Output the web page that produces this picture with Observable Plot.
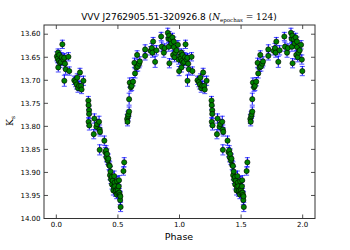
<!DOCTYPE html>
<html><head><meta charset="utf-8">
<script src="https://cdn.jsdelivr.net/npm/d3@7"></script>
<script src="https://cdn.jsdelivr.net/npm/@observablehq/plot@0.6"></script>
<style>html,body{margin:0;padding:0;background:#fff;}#c{position:relative;width:350px;height:250px;}</style>
</head><body><div id="c"></div>
<script>
const phase = [0.005,0.011,0.014,0.016,0.020,0.024,0.030,0.038,0.044,0.049,0.058,0.065,0.065,0.070,0.076,0.098,0.105,
0.146,0.157,0.165,0.170,0.176,0.185,0.192,0.201,0.205,0.220,
0.260,0.262,0.266,0.266,0.262,0.268,0.304,0.309,0.325,0.330,0.347,0.352,0.355,0.352,
0.390,0.398,0.404,0.407,0.412,0.417,0.422,0.428,0.434,0.436,0.440,0.444,0.450,0.452,0.458,0.463,0.466,0.470,0.474,0.477,0.480,0.485,0.490,0.493,0.497,0.499,0.503,0.507,0.509,0.512,0.515,0.518,0.520,0.522,
0.545,0.551,0.575,0.578,0.582,0.585,0.591,0.591,0.596,0.605,0.612,0.623,0.634,0.639,0.650,0.656,0.661,0.672,0.678,
0.721,0.721,0.765,0.775,0.781,0.786,0.802,0.813,0.851,0.856,0.873,0.880,
0.905,0.910,0.913,0.916,0.918,0.927,0.935,0.943,0.948,0.954,0.954,0.960,0.966,0.976,0.987,0.993,0.997];
const mag = [13.648,13.653,13.640,13.672,13.658,13.645,13.662,13.660,13.650,13.622,13.655,13.651,13.701,13.664,13.676,13.649,13.680,
13.700,13.704,13.709,13.694,13.717,13.712,13.683,13.712,13.720,13.701,
13.744,13.754,13.765,13.773,13.790,13.798,13.817,13.783,13.801,13.795,13.790,13.807,13.812,13.851,
13.831,13.856,13.852,13.867,13.860,13.874,13.870,13.884,13.886,13.906,13.898,13.915,13.910,13.926,13.918,13.939,13.931,13.908,13.922,13.930,13.942,13.939,13.948,13.919,13.935,13.939,13.945,13.930,13.917,13.944,13.949,13.960,13.952,13.975,
13.897,13.878,13.784,13.790,13.778,13.774,13.768,13.741,13.705,13.715,13.712,13.703,13.662,13.685,13.672,13.645,13.670,13.664,13.659,
13.647,13.633,13.636,13.630,13.640,13.616,13.660,13.635,13.605,13.627,13.640,13.630,
13.597,13.610,13.627,13.603,13.663,13.611,13.620,13.607,13.645,13.616,13.628,13.650,13.640,13.635,13.623,13.655,13.680];
const err = [0.010,0.009,0.008,0.010,0.009,0.009,0.010,0.008,0.010,0.009,0.010,0.009,0.012,0.010,0.011,0.009,0.009,
0.009,0.010,0.010,0.008,0.009,0.010,0.009,0.010,0.009,0.010,
0.009,0.009,0.009,0.010,0.009,0.010,0.010,0.010,0.009,0.010,0.012,0.010,0.009,0.011,
0.010,0.010,0.010,0.010,0.011,0.009,0.010,0.010,0.009,0.010,0.011,0.009,0.010,0.010,0.009,0.010,0.010,0.011,0.010,0.009,0.010,0.010,0.009,0.010,0.009,0.010,0.010,0.010,0.010,0.009,0.009,0.010,0.010,0.010,
0.009,0.010,0.010,0.009,0.010,0.009,0.010,0.013,0.010,0.009,0.010,0.009,0.010,0.010,0.009,0.009,0.010,0.009,0.010,
0.009,0.010,0.009,0.010,0.010,0.009,0.012,0.010,0.009,0.010,0.010,0.009,
0.010,0.009,0.010,0.009,0.010,0.009,0.010,0.009,0.010,0.010,0.009,0.010,0.010,0.010,0.009,0.010,0.010];
const cycles = [0, 1];
const xTicks = [0, 0.5, 1, 1.5, 2];
const yTicks = [13.60, 13.65, 13.70, 13.75, 13.80, 13.85, 13.90, 13.95, 14.00];

const rows = [];
for (const k of cycles) phase.forEach((p, i) => rows.push({x: p + k, y: mag[i], e: err[i]}));

const capSym = {draw(ctx) { ctx.moveTo(-2.5, 0); ctx.lineTo(2.5, 0); }};
const tickUp = {draw(ctx) { ctx.moveTo(0, 0); ctx.lineTo(0, -4); }};
const tickDown = {draw(ctx) { ctx.moveTo(0, 0); ctx.lineTo(0, 4); }};
const tickRight = {draw(ctx) { ctx.moveTo(0, 0); ctx.lineTo(4, 0); }};
const tickLeft = {draw(ctx) { ctx.moveTo(0, 0); ctx.lineTo(-4, 0); }};

const chart = Plot.plot({
  width: 350, height: 250,
  marginLeft: 43.5, marginRight: 35.5, marginTop: 24.5, marginBottom: 32,
  style: {fontFamily: "DejaVu Sans", fontSize: "7px", background: "white", color: "black"},
  x: {domain: [-0.1, 2.1]},
  y: {domain: [13.58, 14.0], reverse: true},
  marks: [
    Plot.ruleX(rows, {x: "x", y1: d => d.y - d.e, y2: d => d.y + d.e, stroke: "blue", strokeWidth: 1}),
    Plot.dot(rows, {x: "x", y: d => d.y - d.e, symbol: capSym, stroke: "blue", strokeOpacity: 0.7, strokeWidth: 1, fill: "none"}),
    Plot.dot(rows, {x: "x", y: d => d.y + d.e, symbol: capSym, stroke: "blue", strokeOpacity: 0.7, strokeWidth: 1, fill: "none"}),
    Plot.dot(rows, {x: "x", y: "y", r: 2.6, fill: "green", stroke: "black", strokeWidth: 0.6}),
    Plot.dot(xTicks, {x: d => d, frameAnchor: "bottom", symbol: tickUp, stroke: "#222", strokeWidth: 0.8}),
    Plot.dot(xTicks, {x: d => d, frameAnchor: "top", symbol: tickDown, stroke: "#222", strokeWidth: 0.8}),
    Plot.dot(yTicks, {y: d => d, frameAnchor: "left", symbol: tickRight, stroke: "#222", strokeWidth: 0.8}),
    Plot.dot(yTicks, {y: d => d, frameAnchor: "right", symbol: tickLeft, stroke: "#222", strokeWidth: 0.8}),
    Plot.axisX(xTicks, {anchor: "bottom", tickSize: 0, tickPadding: 4, tickFormat: d3.format(".1f"), label: null, fontSize: 7}),
    Plot.axisY(yTicks, {anchor: "left", tickSize: 0, tickPadding: 3.5, tickFormat: d3.format(".2f"), label: null, fontSize: 7}),
    Plot.frame({stroke: "#333", strokeWidth: 1})
  ]
});
document.getElementById("c").appendChild(chart);

const svg = d3.select(chart);
svg.append("text").attr("x", 179).attr("y", 240).attr("text-anchor", "middle")
  .attr("font-family", "DejaVu Sans").attr("font-size", 9.5).attr("fill", "black").text("Phase");

const t = svg.append("text").attr("x", 179).attr("y", 20).attr("text-anchor", "middle")
  .attr("font-family", "DejaVu Sans").attr("font-size", 9).attr("fill", "black");
t.append("tspan").text("VVV J2762905.51-320926.8 (");
t.append("tspan").attr("font-family", "DejaVu Serif").attr("font-style", "italic").text("N");
t.append("tspan").attr("font-family", "DejaVu Serif").attr("font-size", 5.5).attr("dy", 2).text("epochas");
t.append("tspan").attr("font-family", "DejaVu Serif").attr("dy", -2).text(" = 124");
t.append("tspan").text(")");

const yl = svg.append("text").attr("transform", "translate(13,121) rotate(-90)").attr("text-anchor", "middle")
  .attr("font-family", "DejaVu Serif").attr("font-size", 9.5).attr("fill", "black");
yl.append("tspan").text("K");
yl.append("tspan").attr("font-size", 6).attr("dy", 2).text("s");
</script>
</body></html>
